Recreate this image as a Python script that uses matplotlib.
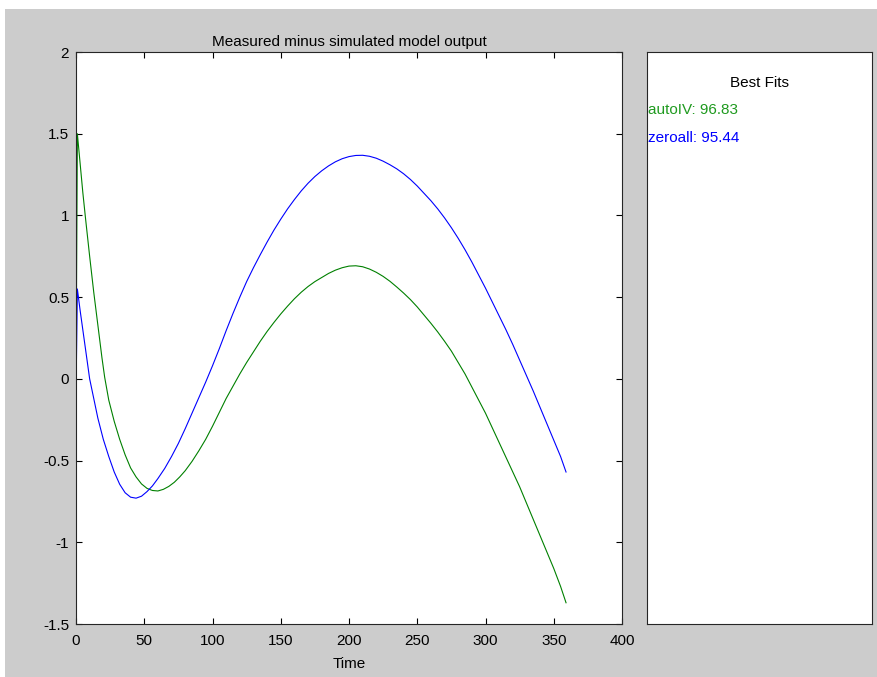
import matplotlib
matplotlib.use("Agg")
import matplotlib.pyplot as plt
from matplotlib.patches import Rectangle

plt.rcParams['font.family'] = ['Liberation Sans', 'DejaVu Sans']

# values (time, output error)
t_autoiv = [0, 1, 3, 5, 7, 10, 13, 16, 19, 21, 24, 28, 32, 36, 40, 44, 48, 52,
            56, 60, 64, 68, 72, 76, 80, 85, 90, 95, 100, 105, 110, 115, 120,
            125, 130, 135, 140, 145, 150, 155, 160, 165, 170, 175, 180, 185,
            190, 195, 200, 205, 210, 215, 220, 225, 230, 235, 240, 245, 250,
            255, 260, 265, 270, 275, 280, 285, 290, 295, 300, 305, 310, 315,
            320, 325, 330, 335, 340, 345, 350, 355, 359]
y_autoiv = [0.0, 1.50, 1.32, 1.14, 0.98, 0.75, 0.53, 0.33, 0.13, 0.01, -0.13,
            -0.26, -0.37, -0.465, -0.545, -0.60, -0.643, -0.67, -0.683, -0.686,
            -0.676, -0.658, -0.633, -0.60, -0.562, -0.505, -0.44, -0.37, -0.29,
            -0.205, -0.12, -0.045, 0.03, 0.10, 0.165, 0.23, 0.29, 0.345, 0.397,
            0.445, 0.49, 0.53, 0.565, 0.595, 0.62, 0.645, 0.665, 0.68, 0.69,
            0.692, 0.686, 0.672, 0.652, 0.627, 0.597, 0.562, 0.525, 0.485,
            0.44, 0.39, 0.34, 0.287, 0.23, 0.17, 0.10, 0.03, -0.05, -0.13,
            -0.21, -0.30, -0.39, -0.48, -0.57, -0.66, -0.76, -0.86, -0.96,
            -1.06, -1.16, -1.27, -1.37]

t_zeroall = [0, 1, 3, 5, 7, 10, 13, 16, 20, 24, 28, 32, 36, 40, 44, 48, 52,
             56, 60, 65, 70, 75, 80, 85, 90, 95, 100, 105, 110, 115, 120, 125,
             130, 135, 140, 145, 150, 155, 160, 165, 170, 175, 180, 185, 190,
             195, 200, 205, 210, 215, 220, 225, 230, 235, 240, 245, 250, 255,
             260, 265, 270, 275, 280, 285, 290, 295, 300, 305, 310, 315, 320,
             325, 330, 335, 340, 345, 350, 355, 359]
y_zeroall = [-0.10, 0.55, 0.42, 0.30, 0.18, 0.0, -0.12, -0.24, -0.37, -0.475,
             -0.57, -0.645, -0.697, -0.724, -0.73, -0.718, -0.69, -0.655,
             -0.61, -0.548, -0.475, -0.395, -0.305, -0.21, -0.115, -0.02, 0.08,
             0.185, 0.295, 0.40, 0.50, 0.595, 0.68, 0.76, 0.837, 0.91, 0.977,
             1.04, 1.097, 1.15, 1.197, 1.238, 1.273, 1.303, 1.328, 1.347,
             1.36, 1.367, 1.368, 1.362, 1.35, 1.332, 1.31, 1.285, 1.255, 1.22,
             1.18, 1.135, 1.09, 1.04, 0.985, 0.925, 0.86, 0.79, 0.715, 0.635,
             0.555, 0.47, 0.385, 0.30, 0.21, 0.115, 0.02, -0.075, -0.175,
             -0.275, -0.375, -0.475, -0.57]

fit_names = ['autoIV', 'zeroall']
fit_values = [96.83, 95.44]
line_colors = ['#008000', '#0000ff']
text_colors = ['#1f9a1f', '#0000ff']

fig = plt.figure(figsize=(8.77, 6.77), dpi=100, facecolor='white')
# grey MATLAB-style figure background
fig.patches.append(Rectangle((5 / 877, 0), 1, 668 / 677, transform=fig.transFigure,
                             facecolor='#cccccc', edgecolor='none', zorder=-1))

ax = fig.add_axes([76 / 877, 53 / 677, 546 / 877, 572 / 677])
ax.plot(t_autoiv, y_autoiv, color=line_colors[0], lw=0.8)
ax.plot(t_zeroall, y_zeroall, color=line_colors[1], lw=0.8)
ax.set_xlim(0, 400)
ax.set_ylim(-1.5, 2)
ax.set_xticks(range(0, 401, 50))
ax.set_yticks([-1.5, -1, -0.5, 0, 0.5, 1, 1.5, 2])
ax.set_yticklabels(['-1.5', '-1', '-0.5', '0', '0.5', '1', '1.5', '2'])
ax.tick_params(direction='in', top=True, right=True, length=4, width=0.8,
               labelsize=11)
ax.tick_params(axis='x', pad=7)
ax.tick_params(axis='y', pad=5)
for s in ax.spines.values():
    s.set_linewidth(0.8)
    s.set_color('#262626')
ax.set_title('Measured minus simulated model output', fontsize=11, pad=4)
ax.set_xlabel('Time', fontsize=11, labelpad=7)

# side panel with the fit percentages
ax2 = fig.add_axes([647 / 877, 53 / 677, 225 / 877, 572 / 677])
ax2.set_xticks([])
ax2.set_yticks([])
for s in ax2.spines.values():
    s.set_linewidth(0.8)
    s.set_color('#262626')
ax2.text(0.5, 0.945, 'Best Fits', ha='center', va='center', fontsize=11,
         transform=ax2.transAxes)
for i, (name, val) in enumerate(zip(fit_names, fit_values)):
    ax2.text(0.005, 0.898 - i * 0.049, f'{name}: {val:.2f}', ha='left',
             va='center', fontsize=11, color=text_colors[i],
             transform=ax2.transAxes)

fig.savefig('out.png', dpi=100)
